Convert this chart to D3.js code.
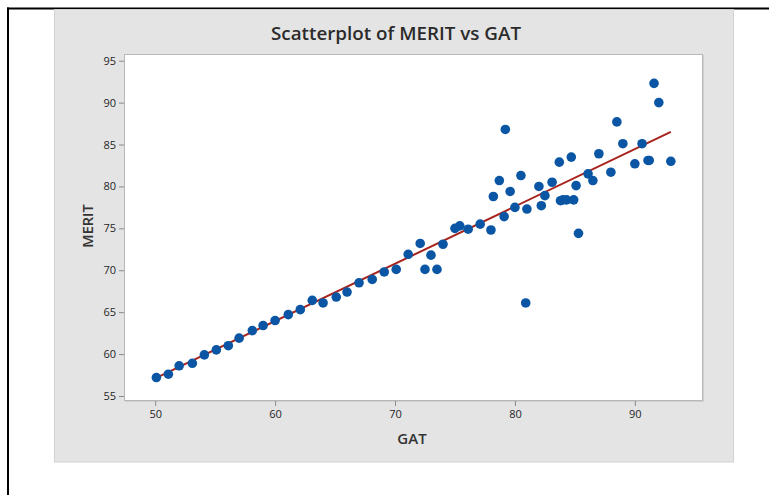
<!DOCTYPE html>
<html>
<head>
<meta charset="utf-8">
<script src="https://cdn.jsdelivr.net/npm/d3@7"></script>
<style>
  html, body { margin: 0; padding: 0; background: #fff; }
  svg { display: block; }
  .tick text { font-family: "Open Sans", "Noto Sans", sans-serif; font-size: 11px; fill: #262626; }
  .tick line { stroke: #8a8a8a; }
</style>
</head>
<body>
<script>
// GAT scores and MERIT ratings
const gat = [
  50.1, 51.1, 52.0, 53.1, 54.1, 55.1, 56.1, 57.0, 58.1, 59.0,
  60.0, 61.1, 62.1, 63.1, 64.0, 65.1, 66.0, 67.0, 68.1, 69.1,
  70.1, 71.1, 72.1, 72.5, 73.0, 73.5, 74.0, 75.0, 75.4, 76.1,
  77.1, 78.0, 78.2, 78.7, 79.1, 79.2, 79.6, 80.0, 80.5, 80.9,
  81.0, 82.0, 82.2, 82.5, 83.1, 83.7, 83.8, 84.0, 84.3, 84.7,
  84.9, 85.1, 85.3, 86.1, 86.5, 87.0, 88.0, 88.5, 89.0, 90.0,
  90.6, 91.1, 91.2, 91.6, 92.0, 93.0
];
const merit = [
  57.2, 57.6, 58.6, 58.9, 59.9, 60.5, 61.0, 61.9, 62.8, 63.4,
  64.0, 64.7, 65.3, 66.4, 66.1, 66.8, 67.4, 68.5, 68.9, 69.8,
  70.1, 71.9, 73.2, 70.1, 71.8, 70.1, 73.1, 75.0, 75.3, 74.9,
  75.5, 74.8, 78.8, 80.7, 76.4, 86.8, 79.4, 77.5, 81.3, 66.1,
  77.3, 80.0, 77.7, 78.9, 80.5, 82.9, 78.3, 78.4, 78.4, 83.5,
  78.4, 80.1, 74.4, 81.5, 80.7, 83.9, 81.7, 87.7, 85.1, 82.7,
  85.1, 83.1, 83.1, 92.3, 90.0, 83.0
];

// fitted regression line endpoints
const fitGat = [50, 93];
const fitMerit = [57.1, 86.5];

// axis ticks
const xTicks = [50, 60, 70, 80, 90];
const yTicks = [55, 60, 65, 70, 75, 80, 85, 90, 95];

const W = 769, H = 495;
const plot = { left: 124, right: 702, top: 54, bottom: 400 };

const svg = d3.select("body").append("svg")
  .attr("width", W).attr("height", H);

// page frame lines
svg.append("line").attr("x1", 7).attr("x2", W).attr("y1", 8.5).attr("y2", 8.5)
  .attr("stroke", "#000").attr("stroke-width", 2);
svg.append("line").attr("x1", 8).attr("x2", 8).attr("y1", 7.5).attr("y2", H)
  .attr("stroke", "#000").attr("stroke-width", 2);

// graph background
svg.append("rect").attr("x", 54.5).attr("y", 9.5).attr("width", 679).attr("height", 452.5)
  .attr("fill", "#e4e4e4").attr("stroke", "#d2d2d2");

// data region with light shadow
svg.append("rect").attr("x", plot.left + 1.5).attr("y", plot.top + 1.5)
  .attr("width", plot.right - plot.left).attr("height", plot.bottom - plot.top)
  .attr("fill", "none").attr("stroke", "#d0d0d0");
svg.append("rect").attr("x", plot.left + 0.5).attr("y", plot.top + 0.5)
  .attr("width", plot.right - plot.left).attr("height", plot.bottom - plot.top)
  .attr("fill", "#fff").attr("stroke", "#b8b8b8");

const x = d3.scaleLinear().domain([47.4, 95.6]).range([plot.left, plot.right]);
const y = d3.scaleLinear().domain([54.52, 95.8]).range([plot.bottom, plot.top]);

// axes
const xAxis = svg.append("g").attr("transform", `translate(0,${plot.bottom + 1})`)
  .call(d3.axisBottom(x).tickValues(xTicks).tickSize(5).tickSizeOuter(0).tickPadding(4));
xAxis.select(".domain").remove();

const yAxis = svg.append("g").attr("transform", `translate(${plot.left},0)`)
  .call(d3.axisLeft(y).tickValues(yTicks).tickSize(5).tickSizeOuter(0).tickPadding(3));
yAxis.select(".domain").remove();

// regression line
svg.append("line")
  .attr("x1", x(fitGat[0])).attr("y1", y(fitMerit[0]))
  .attr("x2", x(fitGat[1])).attr("y2", y(fitMerit[1]))
  .attr("stroke", "#a8231d").attr("stroke-width", 2);

// points
svg.append("g").selectAll("circle")
  .data(gat.map((g, i) => [g, merit[i]]))
  .join("circle")
  .attr("cx", d => x(d[0]))
  .attr("cy", d => y(d[1]))
  .attr("r", 4.8)
  .attr("fill", "#0a56a4");

// titles
svg.append("text").attr("x", 396).attr("y", 40).attr("text-anchor", "middle")
  .attr("font-family", "'Open Sans', 'Noto Sans', sans-serif").attr("font-size", 18.5)
  .attr("font-weight", 600).attr("fill", "#2b2b2b")
  .attr("textLength", 250).attr("lengthAdjust", "spacingAndGlyphs")
  .text("Scatterplot of MERIT vs GAT");

svg.append("text").attr("x", 412).attr("y", 444).attr("text-anchor", "middle")
  .attr("font-family", "'Open Sans', 'Noto Sans', sans-serif").attr("font-size", 15)
  .attr("font-weight", 600).attr("fill", "#333")
  .text("GAT");

svg.append("text").attr("transform", "translate(93,226) rotate(-90)").attr("text-anchor", "middle")
  .attr("font-family", "'Open Sans', 'Noto Sans', sans-serif").attr("font-size", 14.5)
  .attr("font-weight", 600).attr("fill", "#333")
  .text("MERIT");
</script>
</body>
</html>
